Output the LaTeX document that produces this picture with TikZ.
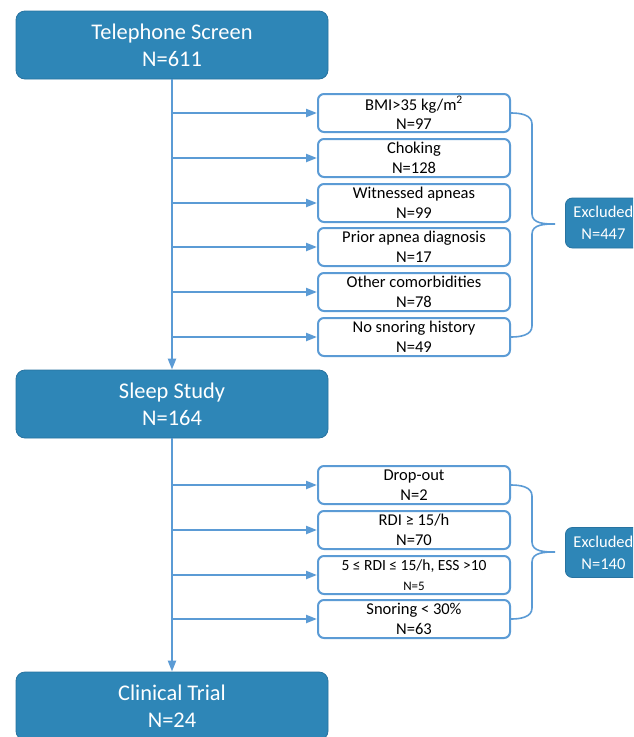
\documentclass[tikz,border=0pt]{standalone}
\usepackage{fontspec}
\setmainfont{Carlito}
\usetikzlibrary{arrows.meta}
\definecolor{mainblue}{RGB}{46,134,183}
\definecolor{mainedge}{RGB}{40,115,160}
\definecolor{linkblue}{RGB}{91,155,213}
\tikzset{
  mainbox/.style={draw=mainedge, line width=0.8pt, fill=mainblue, rounded corners=9pt,
    minimum width=312pt, minimum height=68pt, text=white, align=center,
    font=\fontsize{22.4}{27}\selectfont, inner sep=0pt},
  exbox/.style={draw=linkblue, line width=2pt, fill=white, rounded corners=6pt,
    minimum width=192pt, minimum height=38pt, text=black, align=center,
    font=\fontsize{16.5}{19.5}\selectfont, inner sep=0pt},
  sumbox/.style={draw=mainedge, line width=0.8pt, fill=mainblue, rounded corners=7pt,
    minimum width=76pt, minimum height=50pt, text=white, align=center,
    font=\fontsize{16.5}{22}\selectfont, inner sep=0pt, anchor=west},
  arr/.style={draw=linkblue, line width=2.2pt, -{Triangle[length=11pt,width=8pt]}},
  brace/.style={draw=linkblue, line width=1.6pt},
}
\begin{document}
\begin{tikzpicture}[x=1pt,y=-1pt]
\clip (0,0) rectangle (633,737);
\fill[white] (0,0) rectangle (633,737);

\node[mainbox] (tel) at (172,45) {Telephone Screen\\N=611};
\node[mainbox] (sleep) at (172,404) {Sleep Study\\N=164};
\node[mainbox] (trial) at (172,706) {Clinical Trial\\N=24};

\node[exbox] (bmi) at (414,113) {BMI>35 kg/m\textsuperscript{2}\\N=97};
\node[exbox] (chok) at (414,158) {Choking\\N=128};
\node[exbox] (wit) at (414,203) {Witnessed apneas\\N=99};
\node[exbox] (prior) at (414,247) {Prior apnea diagnosis\\N=17};
\node[exbox] (other) at (414,292) {Other comorbidities\\N=78};
\node[exbox] (nosn) at (414,337) {No snoring history\\N=49};

\node[exbox] (drop) at (414,485) {Drop-out\\N=2};
\node[exbox] (rdi) at (414,530) {RDI ≥ 15/h\\N=70};
\node[exbox] (ess) at (414,575) {\fontsize{15.5}{18}\selectfont 5 ≤ RDI ≤ 15/h, ESS >10\\\fontsize{13}{16}\selectfont N=5};
\node[exbox] (snr) at (414,619) {Snoring < 30\%\\N=63};

\node[sumbox] (ex1) at (565,223) {Excluded\\N=447};
\node[sumbox] (ex2) at (565,552.5) {Excluded\\N=140};

% main flow
\draw[arr] (tel.south) -- (sleep.north);
\draw[arr] (sleep.south) -- (trial.north);

\foreach \b in {bmi,chok,wit,prior,other,nosn}{
  \draw[arr] (tel.south |- \b.west) -- (\b.west);
}
\foreach \b in {drop,rdi,ess,snr}{
  \draw[arr] (sleep.south |- \b.west) -- (\b.west);
}

% braces
\coordinate (t1) at (555,224);
\coordinate (t2) at (555,552);
\draw[brace] (bmi.east) to[out=0,in=90] (532,124) -- (532,214) to[out=-90,in=180] (t1)
  to[out=180,in=90] (532,234) -- (532,326) to[out=-90,in=0] (nosn.east);
\draw[brace] (drop.east) to[out=0,in=90] (532,496) -- (532,542) to[out=-90,in=180] (t2)
  to[out=180,in=90] (532,562) -- (532,608) to[out=-90,in=0] (snr.east);
\end{tikzpicture}
\end{document}
